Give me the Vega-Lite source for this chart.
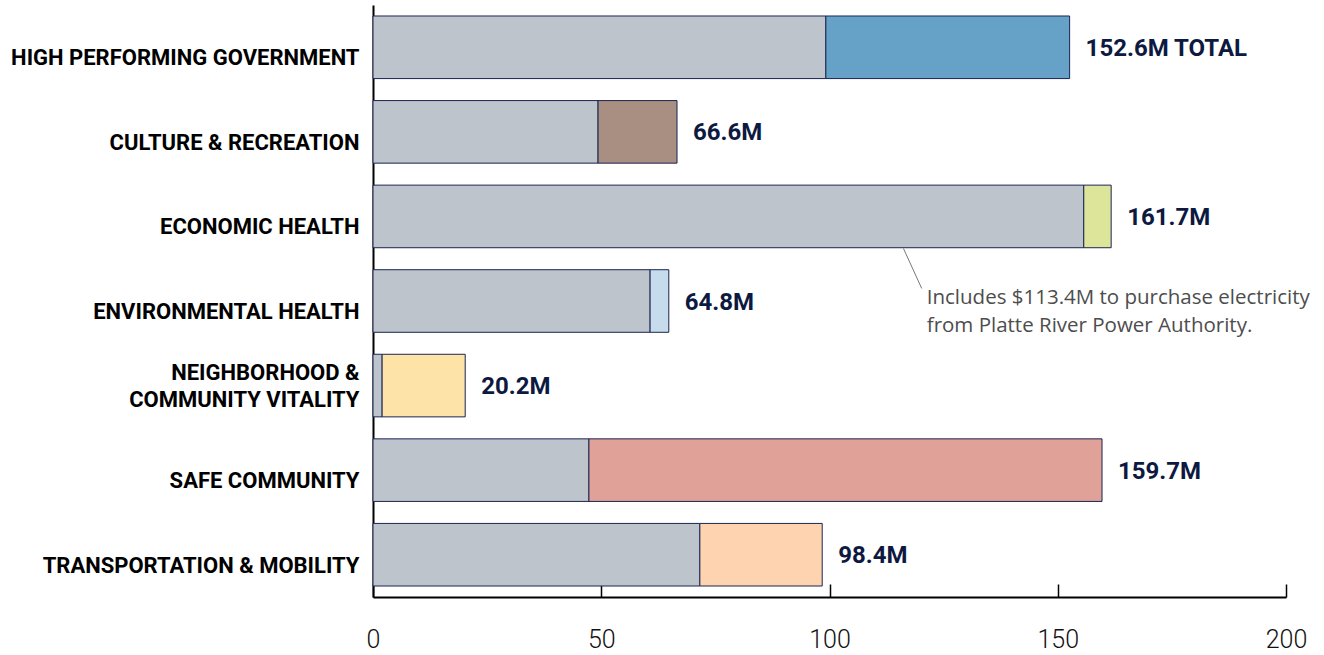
{
  "$schema": "https://vega.github.io/schema/vega-lite/v6.json",
  "width": 913,
  "height": 592,
  "autosize": {"type": "none"},
  "padding": {"left": 373, "top": 5, "right": 38, "bottom": 58},
  "background": "white",
  "config": {"view": {"stroke": null}, "font": "Roboto"},
  "data": {
    "values": [
      {"cat": "HIGH PERFORMING GOVERNMENT", "base": 99.2, "total": 152.6, "label": "152.6M TOTAL"},
      {"cat": "CULTURE & RECREATION", "base": 49.3, "total": 66.6, "label": "66.6M"},
      {"cat": "ECONOMIC HEALTH", "base": 155.7, "total": 161.7, "label": "161.7M"},
      {"cat": "ENVIRONMENTAL HEALTH", "base": 60.7, "total": 64.8, "label": "64.8M"},
      {"cat": "NEIGHBORHOOD &|COMMUNITY VITALITY", "base": 2.0, "total": 20.2, "label": "20.2M"},
      {"cat": "SAFE COMMUNITY", "base": 47.3, "total": 159.7, "label": "159.7M"},
      {"cat": "TRANSPORTATION & MOBILITY", "base": 71.6, "total": 98.4, "label": "98.4M"}
    ]
  },
  "encoding": {
    "y": {
      "field": "cat",
      "type": "nominal",
      "sort": null,
      "scale": {"paddingInner": 0.26, "paddingOuter": 0.13},
      "axis": {
        "title": null,
        "ticks": false,
        "domainColor": "#000000",
        "domainWidth": 2,
        "labelExpr": "split(datum.label, '|')",
        "labelFont": "Roboto",
        "labelFontWeight": "bold",
        "labelFontSize": 22,
        "labelColor": "#000000",
        "labelPadding": 14,
        "labelLineHeight": 27,
        "labelLimit": 400,
        "labelOffset": {"condition": {"test": "indexof(datum.value, '|') >= 0", "value": -13}, "value": 11}
      }
    }
  },
  "layer": [
    {
      "mark": {"type": "bar", "color": "#bdc4cb", "stroke": "#1a2550", "strokeWidth": 1},
      "encoding": {
        "x": {
          "field": "base",
          "type": "quantitative",
          "scale": {"domain": [0, 200], "nice": false},
          "axis": {
            "title": null,
            "values": [0, 50, 100, 150, 200],
            "grid": false,
            "domainColor": "#000000",
            "domainWidth": 2,
            "tickColor": "#000000",
            "tickWidth": 1.5,
            "tickSize": -13,
            "labelFont": "Roboto",
            "labelFontWeight": 300,
            "labelFontSize": 25,
            "labelColor": "#111111",
            "labelPadding": 55,
            "labelBaseline": "middle",
            "labelFlush": false
          }
        },
        "x2": {"datum": 0}
      }
    },
    {
      "mark": {"type": "bar", "stroke": "#1a2550", "strokeWidth": 1},
      "encoding": {
        "x": {"field": "base", "type": "quantitative"},
        "x2": {"field": "total"},
        "color": {
          "field": "cat",
          "type": "nominal",
          "sort": null,
          "legend": null,
          "scale": {"range": ["#66a2c8", "#a98e82", "#dde59b", "#c6dcec", "#fee3a8", "#e0a198", "#fed4b0"]}
        }
      }
    },
    {
      "mark": {"type": "text", "align": "left", "baseline": "middle", "dx": 16, "dy": 1.5, "font": "Roboto", "fontWeight": "bold", "fontSize": 24, "color": "#0d1940"},
      "encoding": {
        "x": {"field": "total", "type": "quantitative"},
        "text": {"field": "label"}
      }
    },
    {
      "data": {"values": [{"cat": "ECONOMIC HEALTH", "x1": 116.2, "x2": 120.2}]},
      "mark": {"type": "rule", "color": "#777777", "strokeWidth": 1, "yOffset": 32, "y2Offset": 72},
      "encoding": {
        "x": {"field": "x1", "type": "quantitative"},
        "x2": {"field": "x2"},
        "y": {"field": "cat", "type": "nominal"},
        "y2": {"field": "cat"}
      }
    },
    {
      "data": {"values": [{"cat": "ENVIRONMENTAL HEALTH", "x": 121.3, "note": ["Includes $113.4M to purchase electricity", "from Platte River Power Authority."]}]},
      "mark": {"type": "text", "align": "left", "baseline": "middle", "yOffset": -3, "font": "Open Sans", "fontSize": 20.5, "lineHeight": 28, "color": "#4d4d4d"},
      "encoding": {
        "x": {"field": "x", "type": "quantitative"},
        "y": {"field": "cat", "type": "nominal"},
        "text": {"field": "note"}
      }
    }
  ]
}
